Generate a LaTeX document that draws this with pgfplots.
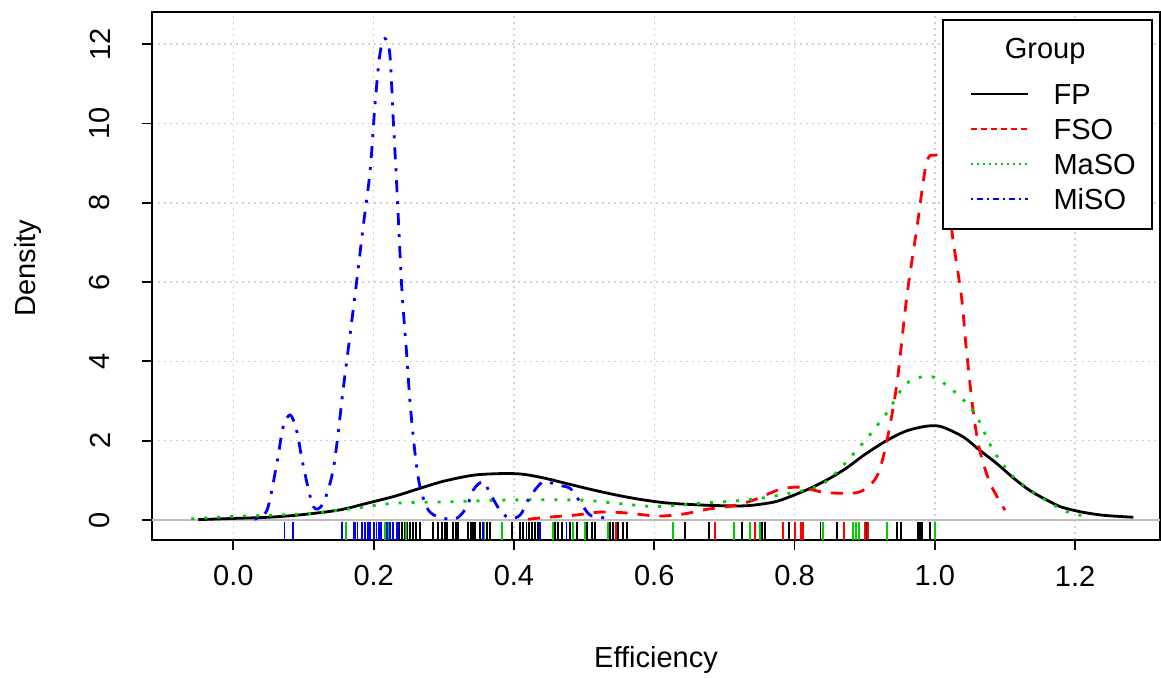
\documentclass[border=0pt]{standalone}
\usepackage{fontspec}
\setmainfont{Liberation Sans}
\usepackage{pgfplots}
\pgfplotsset{compat=1.18}
\definecolor{rred}{RGB}{255,0,0}
\definecolor{rgreen}{RGB}{0,205,0}
\definecolor{rblue}{RGB}{0,0,255}
\definecolor{gridgray}{RGB}{211,211,211}
\definecolor{zerogray}{RGB}{190,190,190}

\begin{document}
\begin{tikzpicture}
\begin{axis}[
  scale only axis, width=504pt, height=264pt,
  xmin=-0.116, xmax=1.321, ymin=-0.504, ymax=12.81,
  xtick={0,0.2,0.4,0.6,0.8,1.0,1.2},
  xticklabels={0.0,0.2,0.4,0.6,0.8,1.0,1.2},
  ytick={0,2,4,6,8,10,12},
  yticklabels={0,2,4,6,8,10,12},
  tick pos=left, tick align=outside, major tick length=5pt,
  tick style={black, line width=0.9pt},
  axis line style={line width=0.9pt},
  grid=major,
  major grid style={gridgray, line width=0.75pt, dash pattern=on 1pt off 2pt},
  font=\fontsize{14.5}{17}\selectfont,
  xticklabel style={anchor=center, yshift=-13pt},
  yticklabel style={rotate=90, anchor=center, yshift=21pt},
  xlabel={Efficiency}, ylabel={Density},
  xlabel style={at={(axis description cs:0.5,-0.227)}, anchor=center},
  ylabel style={at={(axis description cs:-0.123,0.515)}, anchor=center},
  legend style={draw=none, fill=none, at={(0.8115,0.8644)}, anchor=north west,
    inner sep=0pt, outer sep=0pt, row sep=7.1pt, column sep=12.5pt,
    nodes={inner sep=0pt, text height=10.4pt, text depth=0pt},
    font=\fontsize{14.5}{17}\selectfont},
  legend cell align=left,
  legend image code/.code={\draw[#1] (0pt,0pt) -- (28.5pt,0pt);},
]
% zero line
\addplot[zerogray, line width=0.75pt, forget plot] coordinates {(-0.116,0) (1.321,0)};

% FP
\addplot[black, line width=1.4pt, smooth, forget plot] coordinates {
(-0.05,0.01)(0,0.04)(0.05,0.07)(0.095,0.13)(0.15,0.25)(0.19,0.42)(0.23,0.6)
(0.266,0.8)(0.30,0.98)(0.342,1.13)(0.38,1.17)(0.41,1.16)(0.44,1.07)(0.475,0.92)
(0.51,0.77)(0.546,0.63)(0.58,0.52)(0.618,0.43)(0.665,0.38)(0.70,0.36)(0.732,0.36)
(0.76,0.42)(0.78,0.5)(0.82,0.78)(0.85,1.05)(0.874,1.31)(0.90,1.65)(0.931,2.0)
(0.96,2.25)(0.99,2.37)(1.01,2.35)(1.04,2.1)(1.064,1.76)(1.09,1.4)(1.112,1.06)
(1.135,0.75)(1.16,0.5)(1.18,0.33)(1.207,0.21)(1.24,0.12)(1.283,0.07)};

% FSO
\addplot[rred, line width=1.4pt, smooth, dash pattern=on 6pt off 5pt, forget plot] coordinates {
(0.42,0.02)(0.447,0.07)(0.485,0.12)(0.523,0.2)(0.56,0.18)(0.604,0.1)(0.641,0.15)
(0.675,0.27)(0.713,0.36)(0.741,0.5)(0.779,0.77)(0.808,0.83)(0.835,0.72)(0.855,0.68)
(0.893,0.71)(0.917,1.09)(0.931,1.94)(0.946,3.45)(0.96,5.63)(0.974,7.31)(0.988,9.0)
(1.0,9.2)(1.012,9.0)(1.026,7.06)(1.038,5.63)(1.045,4.29)(1.055,2.7)(1.064,1.76)
(1.079,0.92)(1.1,0.25)};

% MaSO
\addplot[rgreen, line width=1.4pt, smooth, dash pattern=on 1.5pt off 5pt, forget plot] coordinates {
(-0.06,0.03)(0.0,0.09)(0.07,0.13)(0.11,0.17)(0.166,0.28)(0.228,0.42)(0.309,0.46)
(0.38,0.5)(0.428,0.51)(0.499,0.5)(0.547,0.42)(0.604,0.34)(0.665,0.42)(0.727,0.5)
(0.779,0.63)(0.841,0.92)(0.893,1.85)(0.931,2.69)(0.96,3.45)(0.997,3.61)(1.036,3.11)
(1.06,2.6)(1.083,1.76)(1.112,1.09)(1.15,0.59)(1.188,0.21)(1.221,0.08)};

% MiSO
\addplot[rblue, line width=1.4pt, smooth, dash pattern=on 1.5pt off 4.5pt on 6pt off 4.5pt, forget plot] coordinates {
(0.03,0.02)(0.048,0.25)(0.062,1.43)(0.071,2.35)(0.081,2.65)(0.09,2.27)(0.1,1.34)
(0.114,0.34)(0.128,0.42)(0.143,1.34)(0.157,3.36)(0.166,4.62)(0.176,6.05)(0.185,7.39)
(0.195,8.82)(0.202,10.5)(0.209,11.76)(0.216,12.14)(0.223,11.76)(0.228,10.08)(0.233,8.4)
(0.24,5.88)(0.247,4.2)(0.252,2.94)(0.259,1.68)(0.266,0.84)(0.278,0.25)(0.295,0.06)
(0.318,0.04)(0.333,0.34)(0.342,0.76)(0.356,0.97)(0.366,0.67)(0.38,0.25)(0.394,0.04)
(0.409,0.13)(0.423,0.59)(0.442,0.97)(0.461,0.88)(0.48,0.8)(0.494,0.46)(0.508,0.13)
(0.523,0.07)(0.54,0.02)};

% rugs
\addplot[black, only marks, mark=|, mark size=4.5pt, mark options={line width=0.9pt}, forget plot] table {
x y
0.236 -0.274
0.240 -0.274
0.244 -0.274
0.248 -0.274
0.252 -0.274
0.256 -0.274
0.260 -0.274
0.266 -0.274
0.285 -0.274
0.292 -0.274
0.297 -0.274
0.302 -0.274
0.305 -0.274
0.313 -0.274
0.317 -0.274
0.320 -0.274
0.335 -0.274
0.339 -0.274
0.342 -0.274
0.345 -0.274
0.352 -0.274
0.357 -0.274
0.362 -0.274
0.366 -0.274
0.397 -0.274
0.409 -0.274
0.413 -0.274
0.418 -0.274
0.422 -0.274
0.426 -0.274
0.430 -0.274
0.434 -0.274
0.459 -0.274
0.463 -0.274
0.469 -0.274
0.480 -0.274
0.485 -0.274
0.490 -0.274
0.504 -0.274
0.511 -0.274
0.516 -0.274
0.537 -0.274
0.541 -0.274
0.548 -0.274
0.555 -0.274
0.561 -0.274
0.644 -0.274
0.678 -0.274
0.725 -0.274
0.754 -0.274
0.758 -0.274
0.792 -0.274
0.837 -0.274
0.861 -0.274
0.903 -0.274
0.946 -0.274
0.952 -0.274
0.976 -0.274
0.979 -0.274
0.982 -0.274
0.993 -0.274
1.000 -0.274
};
\addplot[rred, only marks, mark=|, mark size=4.5pt, mark options={line width=0.9pt}, forget plot] table {
x y
0.546 -0.274
0.687 -0.274
0.744 -0.274
0.784 -0.274
0.801 -0.274
0.809 -0.274
0.812 -0.274
0.870 -0.274
0.900 -0.274
0.905 -0.274
1.000 -0.274
};
\addplot[rgreen, only marks, mark=|, mark size=4.5pt, mark options={line width=0.9pt}, forget plot] table {
x y
0.161 -0.274
0.216 -0.274
0.222 -0.274
0.246 -0.274
0.357 -0.274
0.383 -0.274
0.456 -0.274
0.484 -0.274
0.501 -0.274
0.534 -0.274
0.627 -0.274
0.714 -0.274
0.737 -0.274
0.751 -0.274
0.841 -0.274
0.883 -0.274
0.888 -0.274
0.892 -0.274
0.932 -0.274
1.000 -0.274
};
\addplot[rblue, only marks, mark=|, mark size=4.5pt, mark options={line width=0.9pt}, forget plot] table {
x y
0.073 -0.274
0.085 -0.274
0.155 -0.274
0.172 -0.274
0.174 -0.274
0.177 -0.274
0.183 -0.274
0.188 -0.274
0.192 -0.274
0.195 -0.274
0.200 -0.274
0.204 -0.274
0.208 -0.274
0.211 -0.274
0.219 -0.274
0.223 -0.274
0.228 -0.274
0.233 -0.274
0.235 -0.274
0.356 -0.274
0.437 -0.274
0.475 -0.274
};

% legend box and title
\draw[black, line width=0.75pt, fill=white] (rel axis cs:0.7847,0.589) rectangle (rel axis cs:0.9921,0.9848);
\node[anchor=base] at (rel axis cs:0.886,0.912) {Group};

\addlegendimage{black, line width=0.8pt}
\addlegendentry{FP}
\addlegendimage{rred, line width=0.8pt, dash pattern=on 3pt off 2pt}
\addlegendentry{FSO}
\addlegendimage{rgreen, line width=0.8pt, dash pattern=on 1pt off 2pt}
\addlegendentry{MaSO}
\addlegendimage{rblue, line width=0.8pt, dash pattern=on 1pt off 2pt on 3pt off 2pt}
\addlegendentry{MiSO}
\end{axis}
\pgfresetboundingbox
\path[use as bounding box] (-76pt,-68.5pt) rectangle (504.5pt,270pt);
\end{tikzpicture}
\end{document}
